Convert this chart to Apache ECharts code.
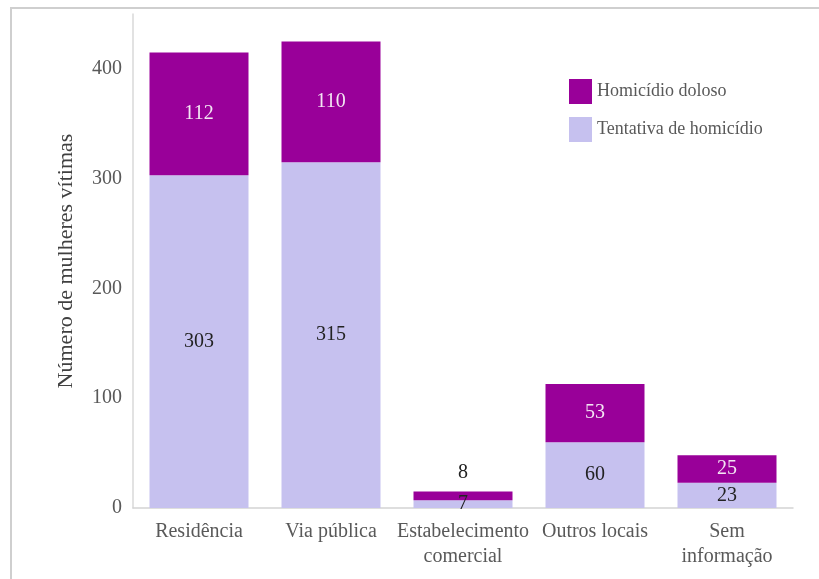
<!DOCTYPE html>
<html>
<head>
<meta charset="utf-8">
<script src="https://cdn.jsdelivr.net/npm/echarts@6/dist/echarts.min.js"></script>
<style>
  html, body { margin: 0; padding: 0; background: #ffffff; }
  #chart { width: 819px; height: 579px; }
</style>
</head>
<body>
<div id="chart"></div>
<script>
// Local onde a vítima foi atingida
const categories = ['Residência', 'Via pública', 'Estabelecimento\ncomercial', 'Outros locais', 'Sem\ninformação'];
const tentativa = [303, 315, 7, 60, 23];
const homicidio = [112, 110, 8, 53, 25];
const yTicks = [0, 100, 200, 300, 400];

const FONT = '"Liberation Serif", "DejaVu Serif", serif';
const DARK = '#990099';
const LIGHT = '#c6c1ef';

const chart = echarts.init(document.getElementById('chart'), null, { renderer: 'canvas' });

// Homicide counts: labels sit inside the bar, except on very short bars where
// the value is printed above the stack
const homicidioData = homicidio.map(v => (
  v < 15
    ? { value: v, label: { position: 'top', distance: 9, color: '#222222' } }
    : { value: v }
));

chart.setOption({
  animation: false,
  backgroundColor: '#ffffff',
  graphic: [{
    type: 'rect',
    shape: { x: 11, y: 8, width: 840, height: 620 },
    style: { fill: 'none', stroke: '#cfcfcf', lineWidth: 2 },
    silent: true,
    z: -1
  }],
  grid: { left: 133, right: 26, top: 14, bottom: 71, containLabel: false },
  legend: {
    orient: 'vertical',
    left: 564,
    top: 74,
    icon: 'rect',
    itemWidth: 23,
    itemHeight: 25,
    itemGap: 13,
    textStyle: { fontFamily: FONT, fontSize: 18, color: '#595959' },
    data: ['Homicídio doloso', 'Tentativa de homicídio']
  },
  xAxis: {
    type: 'category',
    data: categories,
    axisLine: { lineStyle: { color: '#d4d4d4', width: 1.5 } },
    axisTick: { show: false },
    axisLabel: {
      fontFamily: FONT, fontSize: 20, color: '#595959',
      margin: 11, lineHeight: 25, interval: 0
    }
  },
  yAxis: {
    type: 'value',
    min: 0,
    max: 450,
    interval: 100,
    name: 'Número de mulheres vítimas',
    nameLocation: 'middle',
    nameGap: 56,
    nameTextStyle: { fontFamily: FONT, fontSize: 22, color: '#404040' },
    axisLine: { show: true, lineStyle: { color: '#d9d9d9', width: 1.5 } },
    axisTick: { show: false },
    splitLine: { show: false },
    axisLabel: {
      fontFamily: FONT, fontSize: 20, color: '#595959', margin: 11,
      showMaxLabel: false,
      formatter: v => (yTicks.includes(v) ? String(v) : '')
    }
  },
  series: [
    {
      name: 'Tentativa de homicídio',
      type: 'bar',
      stack: 'total',
      barWidth: '75%',
      data: tentativa,
      itemStyle: { color: LIGHT },
      label: {
        show: true, position: 'inside',
        fontFamily: FONT, fontSize: 20, color: '#222222'
      }
    },
    {
      name: 'Homicídio doloso',
      type: 'bar',
      stack: 'total',
      barWidth: '75%',
      data: homicidioData,
      itemStyle: { color: DARK },
      label: {
        show: true, position: 'inside',
        fontFamily: FONT, fontSize: 20, color: '#f3e6f3'
      }
    }
  ]
});
</script>
</body>
</html>
